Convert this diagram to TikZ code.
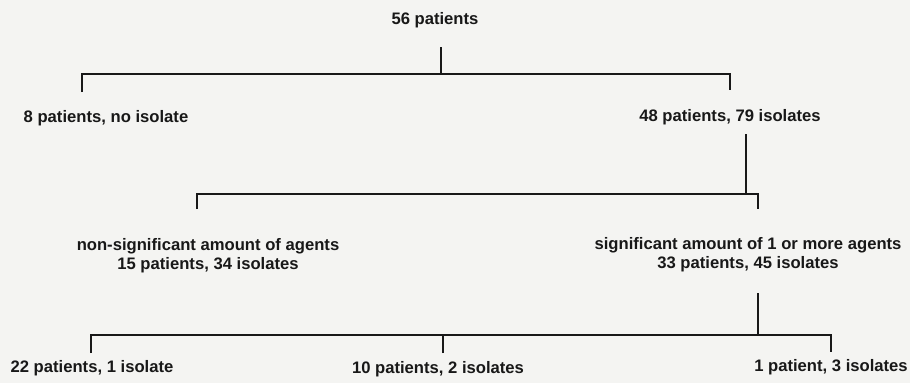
\documentclass[tikz,border=0pt]{standalone}
\usepackage{fontspec}
\setmainfont{Liberation Sans}
\definecolor{bgcol}{RGB}{244,244,242}
\definecolor{ink}{RGB}{24,24,24}
\begin{document}
\begin{tikzpicture}[x=1bp,y=-1bp,
  lbl/.style={inner sep=0pt, outer sep=0pt, text=ink, align=center,
    font=\fontsize{16.7}{19.5}\selectfont\bfseries},
  branch/.style={draw=ink, line width=2.8bp, line cap=butt, line join=miter}]
\fill[bgcol] (0,0) rectangle (910,383);
\useasboundingbox (0,0) rectangle (910,383);
% texts
\node[lbl, anchor=base] (root) at (435,24) {56 patients};
\node[lbl, anchor=base] (n8) at (106,122) {8 patients, no isolate};
\node[lbl, anchor=base] (n48) at (730,121) {48 patients, 79 isolates};
\node[lbl, anchor=north] (nns) at (208,238) {non-significant amount of agents\\15 patients, 34 isolates};
\node[lbl, anchor=north] (nsig) at (748,237) {significant amount of 1 or more agents\\33 patients, 45 isolates};
\node[lbl, anchor=base] (n22) at (92,372) {22 patients, 1 isolate};
\node[lbl, anchor=base] (n10) at (438,373) {10 patients, 2 isolates};
\node[lbl, anchor=base] (n1) at (831,371) {1 patient, 3 isolates};
% junction coordinates
\coordinate (r1) at (441,47);
\coordinate (j1) at (441,74);
\coordinate (d8) at (82,92);
\coordinate (d48) at (730,90);
\coordinate (r2) at (746,134);
\coordinate (j2) at (746,194);
\coordinate (dns) at (197,209);
\coordinate (dsig) at (758,209);
\coordinate (r3) at (758,293);
\coordinate (j3) at (758,335);
\coordinate (d22) at (91,353);
\coordinate (d10) at (443,353);
\coordinate (d1) at (831,352);
% connectors
\draw[branch] (r1) -- (j1);
\draw[branch] (d8) |- (j1) -| (d48);
\draw[branch] (r2) -- (j2);
\draw[branch] (dns) |- (j2) -| (dsig);
\draw[branch] (r3) -- (j3);
\draw[branch] (d22) |- (j3) -| (d1);
\draw[branch] (d10) -- (d10 |- j3);
\end{tikzpicture}
\end{document}
